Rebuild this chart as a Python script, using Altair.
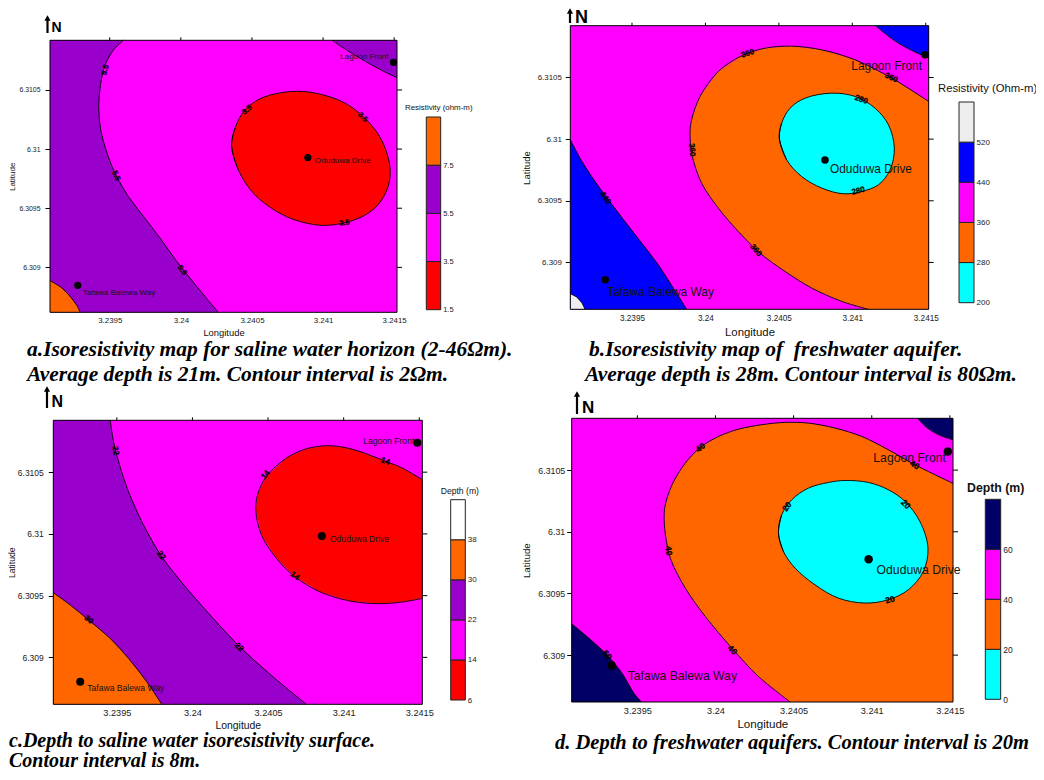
import altair as alt
import pandas as pd

SANS = "Liberation Sans"
SERIF = "Liberation Serif"
XMIN, XMAX = 3.23908, 3.24152
YMIN, YMAX = 6.30862, 6.31092
LON_TICKS = [3.2395, 3.24, 3.2405, 3.241, 3.2415]
LAT_TICKS = [6.309, 6.3095, 6.31, 6.3105]
SITE_NAMES = ["Lagoon Front", "Oduduwa Drive", "Tafawa Balewa Way"]
MAGENTA, PURPLE, ORANGE, RED, CYAN, BLUE, NAVY, PALE = "#ff00ff", "#9900cc", "#ff6600", "#ff0000", "#00ffff", "#0000ff", "#000066", "#eeeeee"

# Panel a
A_55_LEFT_LON = [3.239596,3.239526,3.239467,3.239437,3.239423,3.239437,3.239474,3.239537,3.239631,3.239737,3.239854,3.239971,3.240111,3.240263]
A_55_LEFT_LAT = [6.31092,6.310838,6.310711,6.310556,6.310359,6.310162,6.309993,6.309796,6.3096,6.309431,6.309248,6.309051,6.30884,6.30862]
A_55_TR_LON = [3.241064,3.241165,3.241282,3.241399,3.24152]
A_55_TR_LAT = [6.31092,6.310838,6.310753,6.310674,6.310604]
A_75_LON = [3.23908,3.239163,3.239226,3.239268,3.239292]
A_75_LAT = [6.308888,6.308826,6.308747,6.308679,6.30862]
A_35_LON = [3.240357,3.240381,3.240451,3.24058,3.240814,3.241001,3.241165,3.241306,3.241411,3.24147,3.241458,3.241376,3.241235,3.241025,3.240837,3.240673,3.240509,3.240404]
A_35_LAT = [6.31003,6.310176,6.310331,6.310438,6.310489,6.310458,6.310382,6.310247,6.310078,6.309853,6.309684,6.309515,6.309408,6.309355,6.309388,6.309473,6.309628,6.309825]
A_SITE_LON = [3.241495,3.240893,3.239275]
A_SITE_LAT = [6.310734,6.309929,6.308848]
A_TEXT = ["5.5","5.5","5.5","3.5","3.5","3.5"]
A_TEXT_LON = [3.23947,3.239544,3.240008,3.240467,3.241278,3.241151]
A_TEXT_LAT = [6.310669,6.309774,6.308975,6.310331,6.310269,6.309374]
A_TEXT_ANGLE = [285,65,55,320,45,352]
A_BAR = [1.5,3.5,5.5,7.5,9.5]
A_BAR_COLORS = [RED,MAGENTA,PURPLE,ORANGE]

# Panel b
B_360_LON = [3.24152,3.241268,3.241019,3.240792,3.240587,3.240406,3.240247,3.240088,3.239963,3.239906,3.239895,3.239911,3.239974,3.240088,3.240224,3.240372,3.240542,3.240724,3.240928,3.241109]
B_360_LAT = [6.310305,6.310495,6.310643,6.310724,6.310754,6.310738,6.310676,6.310549,6.310346,6.310157,6.310049,6.309859,6.309643,6.30944,6.309251,6.309075,6.308927,6.308792,6.308684,6.30862]
B_440_TR_LON = [3.241159,3.241234,3.241314,3.241405,3.24152]
B_440_TR_LAT = [6.31092,6.310846,6.310778,6.310719,6.310657]
B_440_LEFT_LON = [3.23908,3.239146,3.239225,3.239339,3.239452,3.239566,3.239679,3.239781,3.239872]
B_440_LEFT_LAT = [6.309995,6.309846,6.309697,6.309508,6.309332,6.309157,6.308981,6.308792,6.30862]
B_520_LON = [3.23908,3.239123,3.239157,3.23918]
B_520_LAT = [6.308746,6.308719,6.308675,6.30862]
B_280_LON = [3.240503,3.240519,3.240576,3.240678,3.24086,3.241019,3.241155,3.241246,3.241286,3.241257,3.241178,3.241064,3.240939,3.240792,3.240655,3.240553]
B_280_LAT = [6.310008,6.31013,6.310251,6.310332,6.310373,6.310346,6.310251,6.310116,6.309927,6.309751,6.30963,6.309576,6.309557,6.309603,6.309697,6.309832]
B_SITE_LON = [3.241495,3.240814,3.239318]
B_SITE_LAT = [6.310684,6.30983,6.308859]
B_TEXT = ["360","360","360","360","280","280","440"]
B_TEXT_LON = [3.240288,3.241264,3.239906,3.240342,3.24106,3.241041,3.239316]
B_TEXT_LAT = [6.310692,6.310495,6.309913,6.309097,6.310319,6.309578,6.309522]
B_TEXT_ANGLE = [342,25,85,50,20,345,55]
B_BAR = [200,280,360,440,520,600]
B_BAR_COLORS = [CYAN,ORANGE,MAGENTA,BLUE,PALE]

# Panel c
C_22_LON = [3.239456,3.239478,3.239518,3.239577,3.239676,3.239797,3.239962,3.240137,3.240313,3.240533,3.240753]
C_22_LAT = [6.31092,6.310749,6.310559,6.310343,6.310073,6.309816,6.309559,6.309316,6.309086,6.308843,6.30862]
C_30_LON = [3.23908,3.239192,3.239313,3.239456,3.239577,3.239698,3.239797]
C_30_LAT = [6.309524,6.309424,6.309303,6.309154,6.308992,6.308803,6.30862]
C_14_LON = [3.24152,3.24139,3.241269,3.241105,3.240995,3.240885,3.240753,3.240621,3.240489,3.240434,3.240419,3.240456,3.240555,3.240676,3.240841,3.241039,3.241247,3.241401,3.24152]
C_14_LAT = [6.310438,6.310532,6.310592,6.310668,6.310703,6.310714,6.310689,6.310614,6.310465,6.31033,6.310195,6.309992,6.309803,6.309654,6.309532,6.309457,6.309435,6.309451,6.309478]
C_SITE_LON = [3.241487,3.240856,3.239258]
C_SITE_LAT = [6.310738,6.309984,6.308803]
C_TEXT = ["22","22","22","30","14","14","14"]
C_TEXT_LON = [3.239489,3.239792,3.240307,3.239313,3.240485,3.241274,3.240676]
C_TEXT_LAT = [6.310673,6.309824,6.309081,6.309303,6.310478,6.310586,6.309657]
C_TEXT_ANGLE = [80,55,45,40,310,20,35]
C_BAR = [6,14,22,30,38,46]
C_BAR_COLORS = [RED,MAGENTA,PURPLE,ORANGE,"#ffffff"]

# Panel d
D_40_LON = [3.24152,3.241383,3.241276,3.241106,3.240936,3.240765,3.240595,3.240446,3.240297,3.240148,3.24002,3.239903,3.239807,3.239722,3.239675,3.239675,3.239711,3.239807,3.239935,3.240105,3.240275,3.240478]
D_40_LAT = [6.310392,6.310476,6.310543,6.310665,6.310773,6.310841,6.310881,6.310887,6.310868,6.310832,6.310773,6.310684,6.310557,6.310381,6.310192,6.31003,6.309786,6.309543,6.309313,6.309057,6.308827,6.30862]
D_60_TR_LON = [3.241293,3.241351,3.241426,3.24152]
D_60_TR_LAT = [6.31092,6.310846,6.310787,6.310746]
D_60_LEFT_LON = [3.23908,3.239189,3.239306,3.239402,3.239477,3.239526]
D_60_LEFT_LAT = [6.309254,6.309138,6.309003,6.308854,6.308692,6.30862]
D_20_LON = [3.240403,3.240424,3.240488,3.240595,3.240723,3.240829,3.240978,3.241106,3.241213,3.241308,3.24136,3.24133,3.241234,3.241106,3.240957,3.240787,3.240637,3.24051,3.240435]
D_20_LAT = [6.309989,6.310138,6.310259,6.310354,6.3104,6.310416,6.3104,6.310341,6.310246,6.310084,6.309867,6.309678,6.30953,6.309449,6.309422,6.309462,6.30957,6.309705,6.30984]
D_SITE_LON = [3.241487,3.24098,3.239336]
D_SITE_LAT = [6.310651,6.309778,6.308916]
D_TEXT = ["40","40","40","40","20","20","20","60"]
D_TEXT_LON = [3.239903,3.241276,3.239702,3.240109,3.240456,3.241219,3.241117,3.239308]
D_TEXT_LAT = [6.310684,6.310543,6.309846,6.309043,6.310205,6.310224,6.309451,6.309003]
D_TEXT_ANGLE = [320,30,85,45,305,45,345,50]
D_BAR = [0,20,40,60,80]
D_BAR_COLORS = [CYAN,ORANGE,MAGENTA,NAVY]

W, H = 1028, 764
ONE = pd.DataFrame({"v": [0]})


def px(v):
    return v - 8


class Panel:
    def __init__(self, x0, x1, y0, y1):
        self.x0, self.x1, self.y0, self.y1 = x0, x1, y0, y1
        self.sx = alt.Scale(domain=[XMIN, XMAX], range=[px(x0), px(x1)], nice=False, zero=False)
        self.sy = alt.Scale(domain=[YMIN, YMAX], range=[px(y1), px(y0)], nice=False, zero=False)
        self.layers = []

    def X(self, f):
        return alt.X(f, type="quantitative", scale=self.sx, axis=self.xa)

    def Y(self, f):
        return alt.Y(f, type="quantitative", scale=self.sy, axis=self.ya)

    def base(self, xlab, ylab, xtitle, ytitle, ypad, ytitlepad, xpad, xtitlepad):
        df = pd.DataFrame({"a": [XMIN], "b": [XMAX], "c": [YMIN], "d": [YMAX]})
        self.xa = alt.Axis(orient="bottom", offset=px(self.y1) - H, values=LON_TICKS, format=".4~f", ticks=False, domain=False,
                           grid=False, labelFont=SANS, labelFontSize=xlab, labelColor="#222222", labelPadding=xpad,
                           title="Longitude", titleFont=SANS, titleFontSize=xtitle, titleFontWeight="normal",
                           titleColor="#111111", titlePadding=xtitlepad)
        self.ya = alt.Axis(orient="left", offset=-px(self.x0), values=LAT_TICKS, format=".4~f", tickSize=5, tickColor="black", domain=False,
                           grid=False, labelFont=SANS, labelFontSize=ylab, labelColor="#222222", labelPadding=ypad,
                           title="Latitude", titleFont=SANS, titleFontSize=ytitle, titleFontWeight="normal",
                           titleColor="#111111", titlePadding=ytitlepad)
        self.layers.append(alt.Chart(df).mark_rect(color=MAGENTA).encode(
            x=self.X("a"), x2="b:Q", y=self.Y("c"), y2="d:Q"))
        return self

    def band(self, lon, lat, color, corners=()):
        full_lon = list(lon) + [c[0] for c in corners]
        full_lat = list(lat) + [c[1] for c in corners]
        df = pd.DataFrame({"lon": full_lon, "lat": full_lat, "i": range(len(full_lon))})
        self.layers.append(alt.Chart(df).mark_line(fill=color, stroke=color, strokeWidth=0, interpolate="linear").encode(
            x=self.X("lon"), y=self.Y("lat"), order=alt.Order("i:Q")))
        line = pd.DataFrame({"lon": lon, "lat": lat, "i": range(len(lon))})
        self.layers.append(alt.Chart(line).mark_line(color="black", strokeWidth=0.9, interpolate="catmull-rom").encode(
            x=self.X("lon"), y=self.Y("lat"), order=alt.Order("i:Q")))
        return self

    def closed(self, lon, lat, color):
        # wrap the ring so that the spline closes smoothly on the same read points
        rlon = lon[-1:] + lon + lon[:2]
        rlat = lat[-1:] + lat + lat[:2]
        df = pd.DataFrame({"lon": rlon, "lat": rlat, "i": range(len(rlon))})
        self.layers.append(alt.Chart(df).mark_line(fill=color, stroke="black", strokeWidth=0.9, interpolate="catmull-rom").encode(
            x=self.X("lon"), y=self.Y("lat"), order=alt.Order("i:Q")))
        return self

    def contour_text(self, text, lon, lat, angle, size):
        df = pd.DataFrame({"t": text, "lon": lon, "lat": lat, "a": angle})
        self.layers.append(alt.Chart(df).mark_text(font=SANS, fontSize=size, fontWeight="bold", color="black", stroke="black", strokeWidth=0.25, baseline="middle").encode(
            x=self.X("lon"), y=self.Y("lat"), text="t:N", angle=alt.Angle("a:Q", scale=None)))
        return self

    def frame(self, top_tick=3, right_tick=5):
        df = pd.DataFrame({"a": [XMIN], "b": [XMAX], "c": [YMIN], "d": [YMAX]})
        self.layers.append(alt.Chart(df).mark_rect(fill="transparent", stroke="black", strokeWidth=1).encode(
            x=self.X("a"), x2="b:Q", y=self.Y("c"), y2="d:Q"))
        tx = pd.DataFrame({"t": LON_TICKS})
        self.layers.append(alt.Chart(tx).mark_rule(color="black", strokeWidth=1).encode(
            x=self.X("t"), y=alt.value(px(self.y0)), y2=alt.value(px(self.y0) - top_tick)))
        ty = pd.DataFrame({"t": LAT_TICKS})
        self.layers.append(alt.Chart(ty).mark_rule(color="black", strokeWidth=1).encode(
            y=self.Y("t"), x=alt.value(px(self.x1)), x2=alt.value(px(self.x1) + right_tick)))
        return self

    def sites(self, lon, lat, dot, size, offsets):
        df = pd.DataFrame({"lon": lon, "lat": lat, "name": SITE_NAMES})
        self.layers.append(alt.Chart(df).mark_circle(size=dot, color="black", opacity=1).encode(
            x=self.X("lon"), y=self.Y("lat")))
        for idx, (dx, dy) in enumerate(offsets):
            self.layers.append(alt.Chart(df.iloc[[idx]]).mark_text(
                font=SANS, fontSize=size, color="#141414", dx=dx, dy=dy, baseline="middle",
                align="right" if idx == 0 else "left").encode(
                x=self.X("lon"), y=self.Y("lat"), text="name:N"))
        return self

    def chart(self):
        return alt.layer(*self.layers)


def colorbar(values, colors, x0, x1, y_low, y_high, label_size, fmt):
    df = pd.DataFrame({"lo": values[:-1], "hi": values[1:], "c": colors})
    scale = alt.Scale(domain=[values[0], values[-1]], range=[px(y_low), px(y_high)], nice=False, zero=False)
    axis = alt.Axis(orient="right", offset=px(x1) - W, values=values[:-1], format=fmt, ticks=False, domain=False, grid=False,
                    labelFont=SANS, labelFontSize=label_size, labelColor="#222222", labelPadding=2, title=None)
    return alt.Chart(df).mark_rect(stroke="#222222", strokeWidth=1).encode(
        x=alt.value(px(x0)), x2=alt.value(px(x1)),
        y=alt.Y("lo:Q", scale=scale, axis=axis), y2="hi:Q",
        fill=alt.Fill("c:N", scale=None))


def label(text, x, y, size, **kw):
    return alt.Chart(ONE).mark_text(text=text, fontSize=size, baseline="middle", align=kw.pop("align", "left"),
                                    font=kw.pop("font", SANS), color=kw.pop("color", "#111111"), **kw).encode(
        x=alt.value(px(x)), y=alt.value(px(y)))


def north(x, tip, bottom, nx, ny, size):
    return [
        alt.Chart(ONE).mark_rule(color="black", strokeWidth=2.2).encode(
            x=alt.value(px(x)), y=alt.value(px(tip + 4)), y2=alt.value(px(bottom))),
        alt.Chart(ONE).mark_point(shape="triangle-up", filled=True, color="black", size=38, opacity=1).encode(
            x=alt.value(px(x)), y=alt.value(px(tip + 3))),
        label("N", nx, ny, size, fontWeight="bold", color="black"),
    ]


LEFT_BOT = (XMIN, YMIN)
LEFT_TOP = (XMIN, YMAX)
RIGHT_BOT = (XMAX, YMIN)
RIGHT_TOP = (XMAX, YMAX)

pa = Panel(50, 397, 40.3, 312.3).base(7.9, 6.9, 9.4, 8, 5, 2, 4, 4)
pa.band(A_55_LEFT_LON, A_55_LEFT_LAT, PURPLE, [LEFT_BOT, LEFT_TOP])
pa.band(A_55_TR_LON, A_55_TR_LAT, PURPLE, [RIGHT_TOP])
pa.band(A_75_LON, A_75_LAT, ORANGE, [LEFT_BOT])
pa.closed(A_35_LON, A_35_LAT, RED)
pa.contour_text(A_TEXT, A_TEXT_LON, A_TEXT_LAT, A_TEXT_ANGLE, 7.5)
pa.frame().sites(A_SITE_LON, A_SITE_LAT, 52, 8.1, [(-5, -5), (7, 4), (5, 8)])

pb = Panel(570.3, 928.7, 25.7, 309.3).base(8.2, 7.9, 11.4, 9.5, 4, 6, 5, 5)
pb.band(B_360_LON, B_360_LAT, ORANGE, [RIGHT_BOT])
pb.band(B_440_TR_LON, B_440_TR_LAT, BLUE, [RIGHT_TOP])
pb.band(B_440_LEFT_LON, B_440_LEFT_LAT, BLUE, [LEFT_BOT])
pb.band(B_520_LON, B_520_LAT, PALE, [LEFT_BOT])
pb.closed(B_280_LON, B_280_LAT, CYAN)
pb.contour_text(B_TEXT, B_TEXT_LON, B_TEXT_LAT, B_TEXT_ANGLE, 8)
pb.frame().sites(B_SITE_LON, B_SITE_LAT, 56, 11.9, [(-3, 11), (5, 9), (2, 12)])

pc = Panel(53.3, 422.3, 420.3, 704.3).base(9.2, 8.5, 10.4, 8.6, 5, 1, 4, 3)
pc.band(C_22_LON, C_22_LAT, PURPLE, [LEFT_BOT, LEFT_TOP])
pc.band(C_30_LON, C_30_LAT, ORANGE, [LEFT_BOT])
pc.band(C_14_LON, C_14_LAT, RED)
pc.contour_text(C_TEXT, C_TEXT_LON, C_TEXT_LAT, C_TEXT_ANGLE, 8)
pc.frame().sites(C_SITE_LON, C_SITE_LAT, 64, 8.6, [(-3, -2), (8, 3), (7, 6)])

pd_ = Panel(571.7, 953, 418.3, 702).base(9.2, 8.8, 11.6, 9.8, 2, 6, 4, 3)
pd_.band(D_40_LON, D_40_LAT, ORANGE, [RIGHT_BOT])
pd_.band(D_60_TR_LON, D_60_TR_LAT, NAVY, [RIGHT_TOP])
pd_.band(D_60_LEFT_LON, D_60_LEFT_LAT, NAVY, [LEFT_BOT])
pd_.closed(D_20_LON, D_20_LAT, CYAN)
pd_.contour_text(D_TEXT, D_TEXT_LON, D_TEXT_LAT, D_TEXT_ANGLE, 8.5)
pd_.frame().sites(D_SITE_LON, D_SITE_LAT, 72, 12.2, [(-2, 7), (8, 11), (16, 11)])

text_layers = [
    label("Resistivity (ohm-m)", 405, 107.7, 7.9),
    label("Resistivity (Ohm-m)", 938, 89, 11.3),
    label("Depth (m)", 440.7, 490.7, 8.6),
    label("Depth (m)", 967, 487.7, 12.3, fontWeight="bold"),
]
CAP = dict(font=SERIF, fontWeight="bold", fontStyle="italic", color="black")
CAP_SIZE = 21.5
text_layers += [
    label("a.Isoresistivity map for saline water horizon (2-46Ωm).", 27, 350, CAP_SIZE, **CAP),
    label("Average depth is 21m. Contour interval is 2Ωm.", 27, 375, CAP_SIZE, **CAP),
    label("b.Isoresistivity map of\u00a0 freshwater aquifer.", 589, 350, CAP_SIZE, **CAP),
    label("Average depth is 28m. Contour interval is 80Ωm.", 585, 375, CAP_SIZE, **CAP),
    label("c.Depth to saline water isoresistivity surface.", 9, 741, 20, **CAP),
    label("Contour interval is 8m.", 9, 761, 20, **CAP),
    label("d. Depth to freshwater aquifers. Contour interval is 20m", 555, 743, 20.5, **CAP),
]
text_layers += north(47.5, 15, 33, 51.5, 28, 14)
text_layers += north(570, 8, 23, 575, 18, 18)
text_layers += north(47, 386, 408, 51.5, 402, 16)
text_layers += north(577, 391, 414, 582, 408, 17)

chart = alt.layer(
    pa.chart(), pb.chart(), pc.chart(), pd_.chart(),
    colorbar(A_BAR, A_BAR_COLORS, 426.3, 440.7, 309.7, 117, 7.5, ".1f"),
    colorbar(B_BAR, B_BAR_COLORS, 959, 974, 302.7, 102, 8, "d"),
    colorbar(C_BAR, C_BAR_COLORS, 450.7, 465.3, 700, 499.7, 8, "d"),
    colorbar(D_BAR, D_BAR_COLORS, 985.3, 1000.7, 699.3, 499.3, 8.5, "d"),
    *text_layers,
).resolve_scale(x="independent", y="independent").resolve_axis(x="independent", y="independent").properties(
    width=W, height=H, padding=0, autosize=alt.AutoSizeParams(type="none")
).configure_view(stroke=None)

chart.save("out.html", embed_options={"renderer": "svg", "actions": False})
